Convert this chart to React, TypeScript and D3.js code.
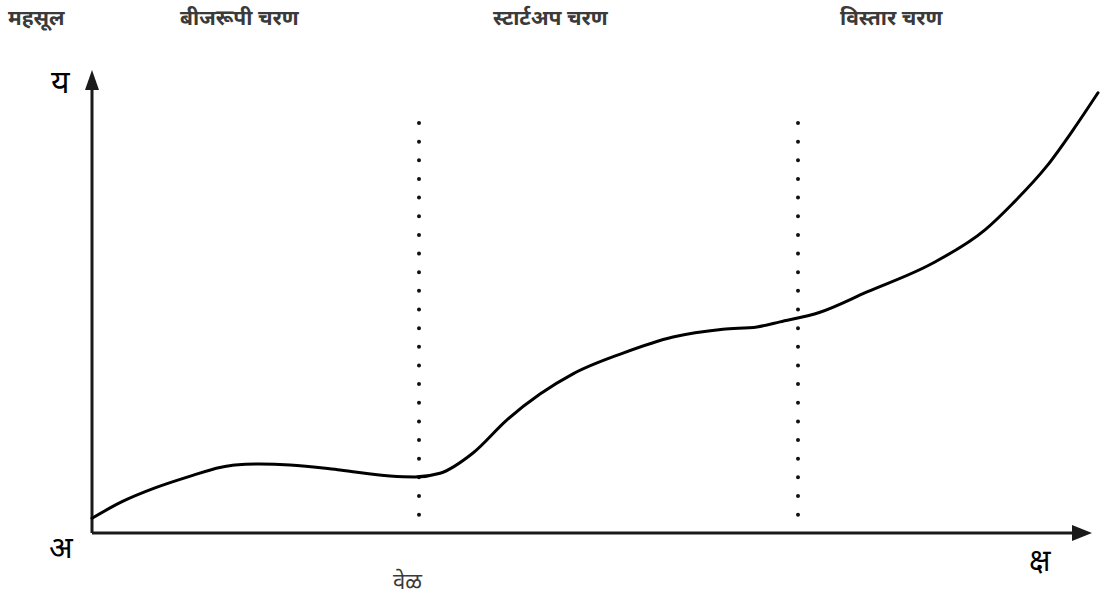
import React from "react";
import * as d3 from "d3";

const timeValues = [0, 2.9, 6.3, 9.6, 12.9, 14.3, 16.8, 19.8, 24.8, 29.8, 32.3, 34.8, 38.1, 41.5, 44.8, 48.1, 53.1, 58.1, 63.1, 66.5, 68.8, 72.8, 77.5, 84.1, 89.3, 92.1, 95.5, 98.1, 100.6];
const revenueValues = [3.2, 6.7, 9.8, 12.2, 14.3, 14.8, 15.0, 14.8, 13.7, 12.4, 12.2, 13.0, 17.4, 24.6, 30.2, 34.6, 39.1, 42.6, 44.3, 44.8, 45.9, 48.0, 52.4, 58.7, 65.9, 71.7, 79.8, 87.6, 95.7];
const phaseBoundaries = [32.7, 70.6];
const phaseLabels = ["बीजरूपी चरण", "स्टार्टअप चरण", "विस्तार चरण"];
const phaseLabelX = [8.8, 40.1, 74.8];
const yTitle = "महसूल";
const xTitle = "वेळ";
const originLabel = "अ";
const yAxisLabel = "य";
const xAxisLabel = "क्ष";

const W = 1113;
const H = 599;
const FONT = "'Noto Sans', 'Noto Sans Devanagari', 'Lohit Devanagari', 'DejaVu Sans', sans-serif";

export default function App() {
  const x = d3.scaleLinear().domain([0, 100]).range([92, 1092]);
  const y = d3.scaleLinear().domain([0, 100]).range([533, 73]);
  const pts: [number, number][] = timeValues.map((t, i) => [t, revenueValues[i]]);
  const line = d3
    .line<[number, number]>()
    .x((d) => x(d[0]))
    .y((d) => y(d[1]))
    .curve(d3.curveMonotoneX);
  const x0 = x(0);
  const y0 = y(0);
  const axisColor = "#1a1a1a";
  return (
    <svg width={W} height={H} style={{ position: "absolute", left: 0, top: 0, background: "#fff" }}>
      {/* headers */}
      <g fontFamily={FONT} fontWeight="bold" fontSize={21} fill="#3a3a3a">
        <text x={8} y={25}>{yTitle}</text>
        {phaseLabels.map((l, i) => (
          <text key={l} x={x(phaseLabelX[i])} y={25}>{l}</text>
        ))}
      </g>
      {/* dotted phase lines */}
      {phaseBoundaries.map((b) => (
        <line
          key={b}
          x1={x(b)}
          x2={x(b)}
          y1={123}
          y2={516}
          stroke="#111"
          strokeWidth={4}
          strokeLinecap="round"
          strokeDasharray="0 18.65"
        />
      ))}
      {/* axes */}
      <line x1={x0} y1={y0} x2={x0} y2={86} stroke={axisColor} strokeWidth={3} />
      <line x1={x0} y1={y0} x2={1076} y2={y0} stroke={axisColor} strokeWidth={3} />
      <path d={`M${x0},70 L${x0 - 7},90 L${x0 + 7},90 Z`} fill={axisColor} />
      <path d={`M1092,${y0} L1072,${y0 - 8} L1072,${y0 + 8} Z`} fill={axisColor} />
      {/* curve */}
      <path d={line(pts) || ""} fill="none" stroke="#000" strokeWidth={3} strokeLinecap="round" />
      {/* axis labels */}
      <g fontFamily={FONT} fill="#000">
        <text x={51} y={93} fontSize={32}>{yAxisLabel}</text>
        <text x={49} y={558} fontSize={31}>{originLabel}</text>
        <text x={1029} y={571} fontSize={30}>{xAxisLabel}</text>
        <text x={393} y={589} fontSize={22} fill="#3a3a3a">{xTitle}</text>
      </g>
    </svg>
  );
}
